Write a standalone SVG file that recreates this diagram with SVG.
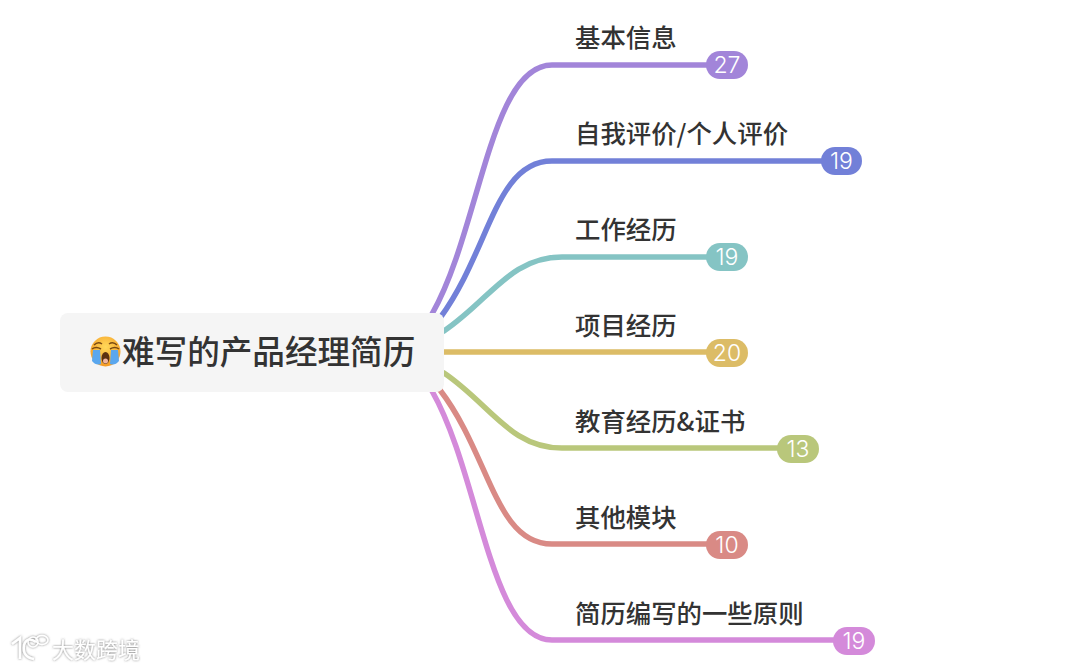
<svg xmlns="http://www.w3.org/2000/svg" width="1080" height="669" viewBox="0 0 1080 669">
<defs>
<radialGradient id="face" cx="50%" cy="35%" r="65%"><stop offset="0" stop-color="#ffd95a"/><stop offset="1" stop-color="#f59a23"/></radialGradient>
<filter id="wm" x="-10%" y="-30%" width="120%" height="160%"><feDropShadow dx="0" dy="0" stdDeviation="1.100" flood-color="#666" flood-opacity="0.900"/></filter>
</defs>
<style>
text{font-family:"Noto Sans CJK SC","Liberation Sans",sans-serif}
.l{font-size:25.400px;fill:#333;font-weight:500}
.t{font-size:32.600px;fill:#333;font-weight:500}
.c{fill:none;stroke-width:5.500;stroke-linecap:round}
.n{font-size:23px;fill:#fff;text-anchor:middle;font-family:"Inter","Liberation Sans",sans-serif;font-weight:300}
</style>
<rect width="1080" height="669" fill="#fff"/>
<g id="connectors">
<path class="c" stroke="#a285d9" d="M432 314C480 230 490 65 552 65H710"/>
<path class="c" stroke="#7280d8" d="M440 318C490 250 495 161 552 161H825"/>
<path class="c" stroke="#85c4c4" d="M444 331C490 300 510 257 562 257H710"/>
<path class="c" stroke="#dcbc66" d="M444 352H710"/>
<path class="c" stroke="#b9c77b" d="M444 373C490 404 510 448 562 448H780"/>
<path class="c" stroke="#d98a85" d="M440 390C490 455 495 544 552 544H710"/>
<path class="c" stroke="#d48ada" d="M432 391C480 475 490 640 552 640H836"/>
</g>
<g id="root">
<rect x="60" y="313" width="384" height="79" rx="8" fill="#f5f5f5"/>
<g id="emoji">
<circle cx="105.500" cy="351.500" r="15" fill="url(#face)"/>
<path d="M94 345q4-4 8-1M109 344q4-3 8 1" fill="none" stroke="#7a4a12" stroke-width="1.500"/>
<path d="M92 349q4-3 9 0M110 349q5-3 9 0" fill="none" stroke="#7a4a12" stroke-width="1.500"/>
<path d="M93 350h7l1 14q-5 2-9-3zM111 350h7l1 11q-4 5-9 3z" fill="#5aa7ee"/>
<ellipse cx="105.500" cy="358" rx="4" ry="6" fill="#5c3210"/>
<ellipse cx="105.500" cy="361" rx="2.500" ry="2.500" fill="#f2b6a0"/>
</g>
<text class="t" x="122" y="363.500">难写的产品经理简历</text>
</g>
<g id="n1"><text class="l" x="575" y="47">基本信息</text><rect x="706" y="51" width="42" height="28" rx="14" fill="#a285d9"/><text class="n" x="727" y="73">27</text></g>
<g id="n2"><text class="l" x="575" y="143">自我评价/个人评价</text><rect x="821" y="147" width="41" height="28" rx="14" fill="#7280d8"/><text class="n" x="841.500" y="169">19</text></g>
<g id="n3"><text class="l" x="575" y="239">工作经历</text><rect x="706" y="243" width="42" height="28" rx="14" fill="#85c4c4"/><text class="n" x="727" y="265">19</text></g>
<g id="n4"><text class="l" x="575" y="335">项目经历</text><rect x="706" y="339" width="42" height="28" rx="14" fill="#dcbc66"/><text class="n" x="727" y="361">20</text></g>
<g id="n5"><text class="l" x="575" y="431">教育经历&amp;证书</text><rect x="777" y="435" width="42" height="28" rx="14" fill="#b9c77b"/><text class="n" x="798" y="457">13</text></g>
<g id="n6"><text class="l" x="575" y="527">其他模块</text><rect x="706" y="531" width="42" height="28" rx="14" fill="#d98a85"/><text class="n" x="727" y="553">10</text></g>
<g id="n7"><text class="l" x="575" y="623">简历编写的一些原则</text><rect x="833" y="627" width="42" height="28" rx="14" fill="#d48ada"/><text class="n" x="854" y="649">19</text></g>
<g id="watermark" filter="url(#wm)">
<path d="M12 644l8-6v21M36 642q-9-6-12 3-2 12 10 14" fill="none" stroke="#fff" stroke-width="2.500"/>
<circle cx="33" cy="642" r="5" fill="none" stroke="#fff" stroke-width="1.500"/>
<ellipse cx="42" cy="640" rx="6" ry="4.500" fill="none" stroke="#fff" stroke-width="1.500"/>
<text x="52" y="658" font-size="22" fill="#fff">大数跨境</text>
</g>
</svg>
